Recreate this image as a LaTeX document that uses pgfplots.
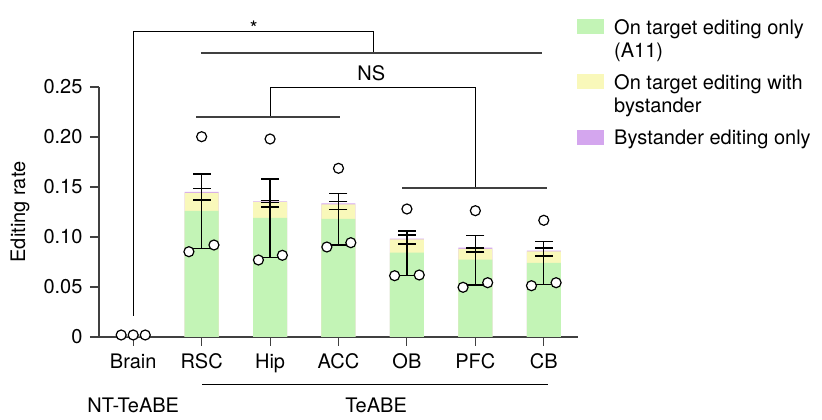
\documentclass[border=0pt]{standalone}
\usepackage{pgfplots}
\pgfplotsset{compat=1.18}
\usepackage{fontspec}
\setmainfont{TeX Gyre Heros}
\newcommand\fs{\fontsize{20}{23}\selectfont}
\definecolor{cgreen}{HTML}{C3F4B6}
\definecolor{cyellow}{HTML}{F9F8BA}
\definecolor{cpurple}{HTML}{D4A6EE}
\pgfplotsset{
  sq legend two/.style={legend image code/.code={\fill[##1] (0pt,5.5pt) rectangle (27pt,20.5pt); \path (35pt,0pt);}},
  sq legend one/.style={legend image code/.code={\fill[##1] (0pt,-7.5pt) rectangle (27pt,7.5pt); \path (35pt,0pt);}},
}
\begin{document}
\begin{tikzpicture}[font=\fs]
\begin{axis}[
  at={(0,0)}, anchor=south west,
  scale only axis, width=479pt, height=250pt,
  xmin=-0.5, xmax=6.5, ymin=0, ymax=0.25,
  clip=false,
  axis lines*=left,
  axis line style={line width=1.1pt, black!75},
  tick style={line width=1.1pt, black!75},
  tick align=outside, major tick length=9pt,
  xtick={0,1,2,3,4,5,6},
  xticklabels={Brain,RSC,Hip,ACC,OB,PFC,CB},
  ytick={0,0.05,0.10,0.15,0.20,0.25},
  yticklabels={0,0.05,0.10,0.15,0.20,0.25},
  xticklabel style={yshift=-4pt},
  yticklabel style={xshift=-4pt},
  ylabel={Editing rate},
  ylabel style={at={(axis description cs:-0.165,0.5)}, rotate=0, anchor=center},
  legend style={draw=none, fill=none, at={(rel axis cs:0.998,1.277)}, anchor=north west,
    inner sep=0pt, row sep=11.5pt, font=\fs, cells={align=left}},
  legend cell align=left,
  reverse legend,
]
% bars (drawn overlapping: total, then yellow top, then green)
\addplot[ybar, bar width=34pt, bar shift=0pt, fill=cpurple, draw=none, sq legend one] coordinates {
 (0,0) (1,0.1450) (2,0.1357) (3,0.1335) (4,0.0983) (5,0.0893) (6,0.0863)};
\addlegendentry{Bystander editing only}
\addplot[ybar, bar width=34pt, bar shift=0pt, fill=cyellow, draw=none, sq legend two] coordinates {
 (0,0) (1,0.1440) (2,0.1350) (3,0.1327) (4,0.0977) (5,0.0880) (6,0.0857)};
\addlegendentry{On target editing with\\bystander}
\addplot[ybar, bar width=34pt, bar shift=0pt, fill=cgreen, draw=none, sq legend two] coordinates {
 (0,0) (1,0.1260) (2,0.1190) (3,0.1180) (4,0.0843) (5,0.0773) (6,0.0740)};
\addlegendentry{On target editing only\\(A11)}
% significance brackets
\addplot[forget plot, black, line width=1pt] coordinates {(0,0.021) (0,0.3053) (3.51,0.3053) (3.51,0.2837)};
\addplot[forget plot, black!75, line width=1.8pt] coordinates {(0.99,0.2837) (5.97,0.2837)};
\addplot[forget plot, black, line width=1pt] coordinates {(2.0,0.220) (2.0,0.2493) (5.0,0.2493) (5.0,0.1493)};
\addplot[forget plot, black!75, line width=1.8pt] coordinates {(0.92,0.220) (3.02,0.220)};
\addplot[forget plot, black!75, line width=1.8pt] coordinates {(3.93,0.1493) (6.04,0.1493)};
\addplot[forget plot, black, line width=1pt] coordinates {(1.01,-0.048) (6.06,-0.048)};
% error bars: top value with minus error down to the low end
\addplot[forget plot, only marks, mark=-, mark size=9pt, black, mark options={line width=1.3pt},
  error bars/.cd, y dir=minus, y explicit, error mark=|,
  error bar style={black, line width=1.3pt},
  error mark options={black, mark size=9pt, line width=1.3pt}]
  table[x=x, y=y, y error minus=em] {
x y em
1 0.1630 0.0743
2 0.1580 0.0787
3 0.1433 0.0513
4 0.1060 0.0443
5 0.1013 0.0493
6 0.0953 0.0426
};
% additional caps
\addplot[forget plot, only marks, mark=-, mark size=9pt, black, mark options={line width=1.3pt}] coordinates {
 (1,0.1487) (1,0.1370)
 (2,0.1368) (2,0.1347) (2,0.1300)
 (3,0.1353) (3,0.1273)
 (4,0.1020) (4,0.0930)
 (5,0.0890) (5,0.0850)
 (6,0.0890) (6,0.0810)};
% individual data points
\addplot[forget plot, only marks, mark=*, mark size=5pt, mark options={fill=white, draw=black, line width=1.2pt}] coordinates {
 (-0.176,0.002) (0,0.002) (0.176,0.002)
 (1.0,0.2003) (0.814,0.0853) (1.18,0.0920)
 (2.0,0.1980) (1.83,0.0770) (2.18,0.0817)
 (3.0,0.1687) (2.83,0.0900) (3.18,0.0943)
 (4.0,0.1280) (3.82,0.0613) (4.18,0.0620)
 (5.0,0.1263) (4.82,0.0497) (5.18,0.0543)
 (6.0,0.1167) (5.82,0.0513) (6.18,0.0543)};
\node[anchor=base] at (axis cs:1.76,0.301) {*};
\node[anchor=center] at (axis cs:3.48,0.264) {NS};
\node[anchor=center] at (axis cs:0,-0.068) {NT-TeABE};
\node[anchor=center] at (axis cs:3.55,-0.068) {TeABE};
\end{axis}
\pgfresetboundingbox
\path[use as bounding box] (-99pt,-83pt) rectangle (723pt,337pt);
\end{tikzpicture}
\end{document}
